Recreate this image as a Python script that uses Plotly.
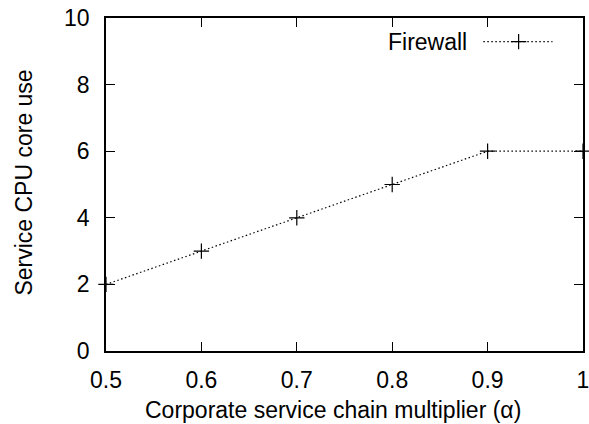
import plotly.graph_objects as go

# ---- data ----
alpha = [0.5, 0.6, 0.7, 0.8, 0.9, 1.0]
cpu_cores = [2, 3, 4, 5, 6, 6]
series_name = "Firewall"

x_ticks = [0.5, 0.6, 0.7, 0.8, 0.9, 1.0]
x_ticktext = ["0.5", "0.6", "0.7", "0.8", "0.9", "1"]
y_ticks = [0, 2, 4, 6, 8, 10]
y_ticktext = ["0", "2", "4", "6", "8", "10"]

x_title = "Corporate service chain multiplier (α)"
y_title = "Service CPU core use"

# ---- style ----
W, H = 589, 424
L, R, T, B = 105.5, 6.3, 18, 73
FONT = "Liberation Sans, Arial, Helvetica, sans-serif"
FS = 23

# legend key placement (fractions of the plot area)
LEG_LINE_X = [0.791, 0.936]
LEG_MARK_X = [0.865]
LEG_Y = 0.929
LEG_TEXT_X = 0.762

line_style = dict(color="black", width=1.2, dash="1.5px,2.5px")
marker_style = dict(symbol="cross-thin", size=11, line=dict(color="black", width=1.2), color="black")

fig = go.Figure()
fig.add_trace(go.Scatter(x=alpha, y=cpu_cores, mode="lines+markers", name=series_name,
                         line=line_style, marker=marker_style, cliponaxis=False,
                         showlegend=False))

# legend key on an overlay axis with 0..1 range
fig.add_trace(go.Scatter(x=LEG_LINE_X, y=[LEG_Y, LEG_Y], mode="lines", line=line_style,
                         xaxis="x2", yaxis="y2", showlegend=False, hoverinfo="skip"))
fig.add_trace(go.Scatter(x=LEG_MARK_X, y=[LEG_Y], mode="markers", marker=marker_style,
                         xaxis="x2", yaxis="y2", showlegend=False, hoverinfo="skip"))

axis_common = dict(showline=True, linecolor="black", linewidth=1.5, mirror="ticks",
                   ticks="inside", ticklen=9, tickwidth=1.3, tickcolor="black",
                   showgrid=False, zeroline=False, automargin=False,
                   ticklabeloverflow="allow",
                   tickfont=dict(family=FONT, size=FS, color="black"))

fig.update_layout(
    width=W, height=H,
    margin=dict(l=L, r=R, t=T, b=B, pad=0, autoexpand=False),
    paper_bgcolor="white", plot_bgcolor="white",
    font=dict(family=FONT, size=FS, color="black"),
    xaxis=dict(range=[0.5, 1.0], tickvals=x_ticks, ticktext=x_ticktext,
               ticklabelstandoff=8, **axis_common),
    yaxis=dict(range=[0, 10], tickvals=y_ticks, ticktext=y_ticktext,
               ticklabelstandoff=10, **axis_common),
    xaxis2=dict(range=[0, 1], overlaying="x", visible=False, fixedrange=True),
    yaxis2=dict(range=[0, 1], overlaying="y", visible=False, fixedrange=True),
    annotations=[
        dict(text=x_title, xref="paper", yref="paper", x=0.475, y=-0.177,
             xanchor="center", yanchor="middle", showarrow=False,
             font=dict(family=FONT, size=FS, color="black")),
        dict(text=y_title, xref="paper", yref="paper", x=-0.171, y=0.507,
             xanchor="center", yanchor="middle", showarrow=False, textangle=-90,
             font=dict(family=FONT, size=FS, color="black")),
        dict(text=series_name, xref="paper", yref="paper", x=LEG_TEXT_X, y=LEG_Y,
             xanchor="right", yanchor="middle", showarrow=False,
             font=dict(family=FONT, size=FS, color="black")),
    ],
)

fig.write_html("out.html", config={"displayModeBar": False},
               post_script="document.body.style.margin='0';document.body.style.overflow='hidden';")
